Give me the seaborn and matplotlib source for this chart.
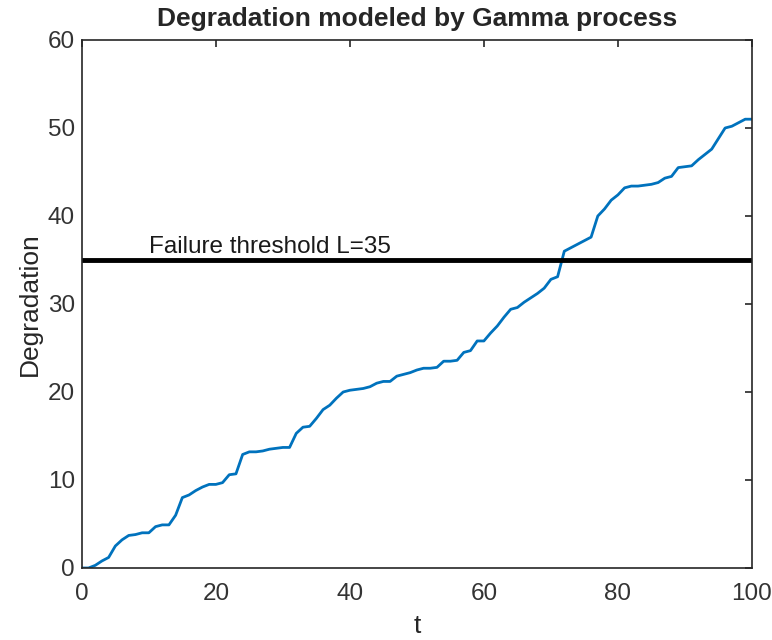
import matplotlib
matplotlib.use('Agg')
import matplotlib.pyplot as plt
import seaborn as sns
import pandas as pd

t = list(range(0, 101))
degradation = [
    0.0, 0.0, 0.3, 0.8, 1.2, 2.5, 3.2, 3.7, 3.8, 4.0,
    4.0, 4.7, 4.9, 4.9, 6.0, 8.0, 8.3, 8.8, 9.2, 9.5,
    9.5, 9.7, 10.6, 10.7, 12.9, 13.2, 13.2, 13.3, 13.5, 13.6,
    13.7, 13.7, 15.3, 16.0, 16.1, 17.0, 18.0, 18.5, 19.3, 20.0,
    20.2, 20.3, 20.4, 20.6, 21.0, 21.2, 21.2, 21.8, 22.0, 22.2,
    22.5, 22.7, 22.7, 22.8, 23.5, 23.5, 23.6, 24.5, 24.7, 25.8,
    25.8, 26.7, 27.5, 28.5, 29.4, 29.6, 30.2, 30.7, 31.2, 31.8,
    32.8, 33.1, 36.0, 36.4, 36.8, 37.2, 37.6, 40.0, 40.8, 41.8,
    42.4, 43.2, 43.4, 43.4, 43.5, 43.6, 43.8, 44.3, 44.5, 45.5,
    45.6, 45.7, 46.4, 47.0, 47.6, 48.8, 50.0, 50.2, 50.6, 51.0,
    51.0,
]
threshold = 35
threshold_label = 'Failure threshold L=35'

df = pd.DataFrame({'t': t, 'Degradation': degradation})

sns.set_style('white')
plt.rcParams['font.family'] = ['Liberation Sans', 'DejaVu Sans']

fig = plt.figure(figsize=(7.72, 6.4), dpi=100)
ax = fig.add_axes([0.106, 0.1125, 0.868, 0.825])

sns.lineplot(data=df, x='t', y='Degradation', color='#0072BD', lw=2, ax=ax)
ax.axhline(threshold, color='black', lw=3.5)
ax.text(10, threshold + 0.8, threshold_label, fontsize=17.5, color='#1a1a1a')

ax.set_xlim(0, 100)
ax.set_ylim(0, 60)
ax.set_xticks([0, 20, 40, 60, 80, 100])
ax.set_yticks([0, 10, 20, 30, 40, 50, 60])
ax.tick_params(direction='in', length=5, width=1.2, top=True, right=True,
               labelsize=17.5, colors='#262626', labelcolor='#333333')
ax.tick_params(axis='x', pad=10.5)
ax.tick_params(axis='y', pad=5)
for s in ax.spines.values():
    s.set_color('#262626')
    s.set_linewidth(1.2)

ax.set_title('Degradation modeled by Gamma process', fontsize=19, fontweight='bold', pad=10)
ax.set_xlabel('t', fontsize=19, color='#262626', labelpad=7)
ax.set_ylabel('Degradation', fontsize=19, color='#262626', labelpad=4)

fig.savefig('out.png', dpi=100)
